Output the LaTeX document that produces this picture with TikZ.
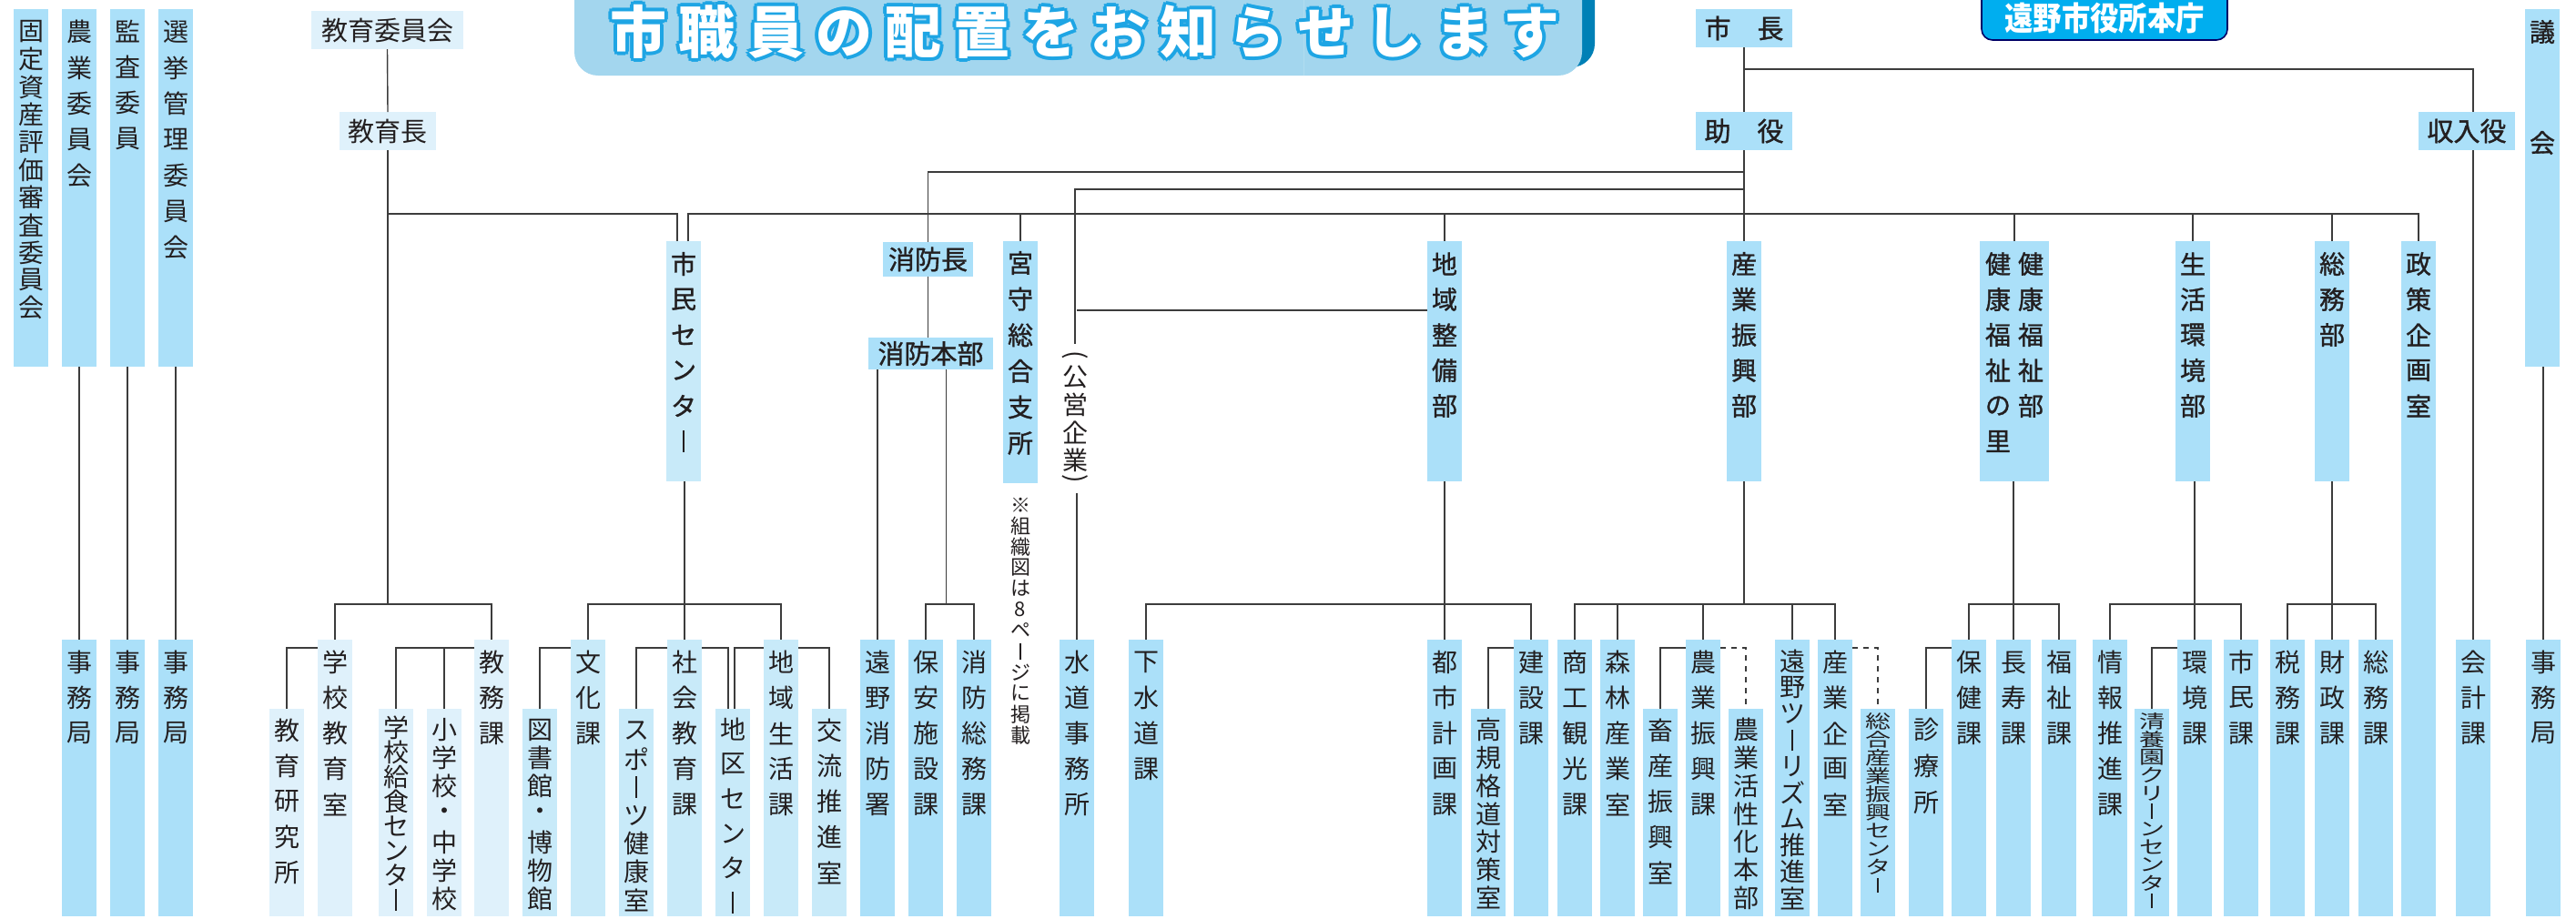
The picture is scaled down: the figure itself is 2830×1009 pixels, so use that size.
\documentclass[tikz,border=0pt]{standalone}
\usepackage{fontspec}
\usepackage{graphicx}
\usetikzlibrary{calc}
\newfontfamily\jp{Noto Sans CJK JP}
\newfontfamily\jpm{Noto Sans CJK JP}[FakeBold=1.2]
\newdimen\upx \upx=0.5pt
\definecolor{cmain}{RGB}{171,224,249}
\definecolor{cmed}{RGB}{200,234,249}
\definecolor{clight}{RGB}{223,241,251}
\definecolor{ctitle}{RGB}{163,214,238}
\definecolor{cshadow}{RGB}{0,128,182}
\definecolor{cbanner}{RGB}{0,174,239}
\definecolor{coutline}{RGB}{30,165,228}
\definecolor{cline}{RGB}{60,60,60}
\definecolor{textc}{RGB}{35,31,32}
\makeatletter
\let\vtfmt\@firstofone
\newcommand\vt[2][39]{\vtop{\offinterlineskip\@tfor\vt@c:=#2\do{\vbox to #1\upx{\vss\hbox to 1em{\hss\vtfmt{\vt@c}\hss}\vss}}}}
\makeatother
\newcommand\vc[2]{\vbox to #1\upx{\vss\hbox to 1em{\hss#2\hss}\vss}}
\newcommand\cho{\rule[-0.04em]{0.075em}{0.84em}}
\newcommand\lpar{\rotatebox[origin=c]{-90}{(}}
\newcommand\rpar{\rotatebox[origin=c]{-90}{)}}
\newcommand\tsp{\hspace{13.5\upx}}
\newcommand\vbt[5]{\vbox to #2\upx{\vskip\dimexpr #3\upx-#4\upx/2\relax\hbox to #1\upx{\hss\vt[#4]{#5}\hss}\vss}}
\newcommand\hx[3]{\vbox to #2\upx{\vss\hbox to #1\upx{\hss#3\hss}\vss}}
\newcommand\VB[9]{\node[vf,#1,anchor=north west] (#2) at (#3,#4) {\vbt{#5}{#6}{#7}{#8}{#9}};}
\newcommand\HB[7]{\node[hf,#1,anchor=north west] (#2) at (#3,#4) {\hx{#5}{#6}{#7}};}
\tikzset{
 bx/.style={inner sep=0pt, outer sep=0pt, text=textc},
 mb/.style={bx, fill=cmain},
 md/.style={bx, fill=cmed},
 lt/.style={bx, fill=clight},
 vf/.style={font=\jp\fontsize{14pt}{14pt}\selectfont},
 vbf/.style={font=\jpm\fontsize{14pt}{14pt}\selectfont},
 hf/.style={font=\jp\fontsize{14.5pt}{14.5pt}\selectfont},
 hbf/.style={font=\jpm\fontsize{14.5pt}{14.5pt}\selectfont},
 sm/.style={font=\jp\fontsize{14pt}{14pt}\selectfont\def\vtfmt{\scalebox{1}[0.72]}},
 ln/.style={draw=cline, line width=0.7pt},
 tt/.style={inner sep=0pt, font=\jp\bfseries\fontsize{31pt}{31pt}\selectfont},
}
\begin{document}
\begin{tikzpicture}[x=0.5pt,y=-0.5pt]
\useasboundingbox[fill=white] (0,0) rectangle (2830,1009);
% ---------- title banner ----------
\fill[cshadow, rounded corners=13pt] (660,-40) rectangle (1752,74);
\fill[ctitle, rounded corners=13pt] (631,-40) rectangle (1738,83);
\draw[ctitle!85!white, line width=0.5pt] (1432,0) -- (1432,83);
\foreach \a in {0,45,...,315}
  \node[tt, text=coutline] (tto\a) at ($(1192,35)+(\a:4)$) {市\tsp 職\tsp 員\tsp の\tsp 配\tsp 置\tsp を\tsp お\tsp 知\tsp ら\tsp せ\tsp し\tsp ま\tsp す};
\node[tt, text=white] (title) at (1192,35) {市\tsp 職\tsp 員\tsp の\tsp 配\tsp 置\tsp を\tsp お\tsp 知\tsp ら\tsp せ\tsp し\tsp ま\tsp す};
% ---------- honcho banner ----------
\filldraw[fill=cbanner, draw=black!60!blue, line width=0.8pt, rounded corners=6pt] (2177,-20) -- (2177,44) -- (2447,44) -- (2447,-20);
\node[inner sep=0pt, text=white, font=\jp\bfseries\fontsize{16.5pt}{16.5pt}\selectfont] (honcho) at (2312,20) {\scalebox{0.95}[1.08]{遠野市役所本庁}};
% ---------- levels ----------
\coordinate (yT) at (0,76);
\coordinate (yF) at (0,189);
\coordinate (yK) at (0,208);
\coordinate (yM) at (0,235);
\coordinate (yC) at (0,341);
\coordinate (yB) at (0,664);
\coordinate (yS) at (0,712);
% ---------- committees ----------
\VB{mb}{kotei}{15}{10}{38}{393}{25}{30.3}{固定資産評価審査委員会}
\VB{mb}{nogyoi}{68}{10}{38}{393}{25}{39.5}{農業委員会}
\VB{mb}{kansa}{121}{10}{38}{393}{25}{39}{監査委員}
\VB{mb}{senkyo}{174}{10}{38}{393}{25}{39.5}{選挙管理委員会}
\VB{mb}{jim1}{68}{703}{38}{304}{25}{39}{事務局}
\VB{mb}{jim2}{121}{703}{38}{304}{25}{39}{事務局}
\VB{mb}{jim3}{174}{703}{38}{304}{25}{39}{事務局}
% ---------- horizontal heads ----------
\HB{lt}{kyoikui}{342}{12}{167}{42}{教育委員会}
\HB{lt}{kyoikucho}{373}{123}{106}{42}{教育長}
\HB{mb,hbf}{shicho}{1863}{10}{106}{42}{市\hspace{1em}長}
\HB{mb,hbf}{joyaku}{1863}{123}{106}{42}{助\hspace{1em}役}
\HB{mb,hbf}{shunyu}{2657}{123}{106}{42}{収入役}
\HB{mb,hbf}{shobocho}{970}{266}{99}{38}{消防長}
\HB{mb,hbf}{shobohonbu}{954}{371}{137}{35}{消防本部}
% ---------- middle ----------
\VB{md,vbf}{shiminc}{732}{265}{38}{264}{25}{39}{市民センタ\cho}
\VB{mb,vbf}{miyamori}{1102}{265}{38}{266}{24}{39.6}{宮守総合支所}
\VB{mb,vbf}{chiiki}{1568}{265}{38}{264}{25}{39}{地域整備部}
\VB{mb,vbf}{sangyo}{1897}{265}{38}{264}{25}{39}{産業振興部}
\node[vbf,mb,anchor=north west] (kenko) at (2175,265) {\vbox to 264\upx{\vskip5.5\upx\hbox to 76\upx{\hss\vt{健康福祉の里}\hspace{8\upx}\vt{健康福祉部}\hss}\vss}};
\VB{mb,vbf}{seikatsu}{2390}{265}{38}{264}{25}{39}{生活環境部}
\VB{mb,vbf}{somubu}{2543}{265}{38}{264}{25}{39}{総務部}
\VB{mb,vbf}{seisaku}{2638}{265}{38}{742}{25}{39}{政策企画室}
\VB{mb,vbf}{gikai}{2774}{10}{38}{393}{25}{122}{議会}
\node[anchor=north, inner sep=0pt, outer sep=3.5pt, text=textc, font=\jp\fontsize{14pt}{14pt}\selectfont] (koei) at (1181,378) {\vtop{\offinterlineskip\vc{14}{\lpar}\vc{30.5}{公}\vc{30.5}{営}\vc{30.5}{企}\vc{30.5}{業}\vc{14}{\rpar}}};
\node[anchor=north, inner sep=0pt, text=textc, font=\jp\fontsize{11pt}{11pt}\selectfont] (note) at (1121,543) {\vt[23]{※組織図は8ペ\cho ジに掲載}};
% ---------- bottom row ----------
\VB{lt}{kenkyu}{296}{779}{38}{228}{24}{39}{教育研究所}
\VB{lt}{gakko}{349}{703}{38}{304}{25}{39}{学校教育室}
\VB{lt}{kyushoku}{416}{779}{38}{228}{21}{27}{学校給食センタ\cho}
\VB{lt}{shochu}{469}{779}{38}{228}{23}{31}{小学校・中学校}
\VB{lt}{kyomu}{521}{703}{38}{304}{25}{39}{教務課}
\VB{md}{tosho}{574}{779}{38}{228}{23}{31}{図書館・博物館}
\VB{md}{bunka}{627}{703}{38}{304}{25}{39}{文化課}
\VB{md}{sports}{680}{779}{38}{228}{24}{31}{スポ\cho ツ健康室}
\VB{md}{shakai}{733}{703}{38}{304}{25}{39}{社会教育課}
\VB{md}{chiku}{786}{779}{38}{228}{23}{38}{地区センタ\cho}
\VB{md}{chiikiseikatsu}{839}{703}{38}{304}{25}{39}{地域生活課}
\VB{md}{koryu}{892}{779}{38}{228}{24}{39}{交流推進室}
\VB{mb}{toonoshobo}{945}{703}{38}{304}{25}{39}{遠野消防署}
\VB{mb}{hoan}{998}{703}{38}{304}{25}{39}{保安施設課}
\VB{mb}{shobosomu}{1051}{703}{38}{304}{25}{39}{消防総務課}
\VB{mb}{suido}{1164}{703}{38}{304}{25}{39}{水道事務所}
\VB{mb}{gesui}{1240}{703}{38}{304}{25}{39}{下水道課}
\VB{mb}{toshi}{1568}{703}{38}{304}{25}{39}{都市計画課}
\VB{mb}{kokikaku}{1616}{779}{38}{228}{23}{30.8}{高規格道対策室}
\VB{mb}{kensetsu}{1663}{703}{38}{304}{25}{39}{建設課}
\VB{mb}{shoko}{1711}{703}{38}{304}{25}{39}{商工観光課}
\VB{mb}{shinrin}{1758}{703}{38}{304}{25}{39}{森林産業室}
\VB{mb}{chikusan}{1805}{779}{38}{228}{24}{39}{畜産振興室}
\VB{mb}{noshin}{1852}{703}{38}{304}{25}{39}{農業振興課}
\VB{mb}{kasseika}{1899}{779}{38}{228}{23}{30.8}{農業活性化本部}
\VB{mb}{tourism}{1950}{703}{38}{304}{24}{28.9}{遠野ツ\cho リズム推進室}
\VB{mb}{sangyokikaku}{1997}{703}{38}{304}{25}{39}{産業企画室}
\VB{mb,sm}{sogo}{2044}{779}{38}{228}{14}{20}{総合産業振興センタ\cho}
\VB{mb}{shinryo}{2097}{779}{38}{228}{23}{40}{診療所}
\VB{mb}{hoken}{2144}{703}{38}{304}{25}{39}{保健課}
\VB{mb}{chouju}{2193}{703}{38}{304}{25}{39}{長寿課}
\VB{mb}{fukushi}{2243}{703}{38}{304}{25}{39}{福祉課}
\VB{mb}{joho}{2299}{703}{38}{304}{25}{39}{情報推進課}
\VB{mb,sm}{seiyoen}{2345}{779}{38}{228}{14}{19.7}{清養園クリ\cho ンセンタ\cho}
\VB{mb}{kankyo}{2392}{703}{38}{304}{25}{39}{環境課}
\VB{mb}{shiminka}{2443}{703}{38}{304}{25}{39}{市民課}
\VB{mb}{zeimu}{2494}{703}{38}{304}{25}{39}{税務課}
\VB{mb}{zaisei}{2543}{703}{38}{304}{25}{39}{財政課}
\VB{mb}{somuka}{2591}{703}{38}{304}{25}{39}{総務課}
\VB{mb}{kaikei}{2698}{703}{38}{304}{25}{39}{会計課}
\VB{mb}{jimg}{2775}{703}{38}{304}{25}{39}{事務局}
% ---------- connectors ----------
\draw[ln] (nogyoi.south) -- (jim1.north);
\draw[ln] (kansa.south) -- (jim2.north);
\draw[ln] (senkyo.south) -- (jim3.north);
% education
\draw[ln] (kyoikui.south) -- (kyoikucho.north);
\draw[ln] (kyoikucho.south) -- (kyoikucho |- yB);
\draw[ln] (gakko.north) -- (gakko |- yB) -- (kyomu |- yB) -- (kyomu.north);
\draw[ln] (gakko.west |- yS) -| (kenkyu.north);
\draw[ln] (kyomu.west |- yS) -| (kyushoku.north);
\draw[ln] (shochu.north) -- (shochu |- yS);
\draw[ln] (kyoikucho |- yM) -| ($(shiminc.north)+(-7,0)$);
% main bar
\draw[ln] ($(shiminc.north)+(5,0)$) |- (seisaku |- yM) -- (seisaku.north);
% shimin center
\draw[ln] (shakai.north) -- (shakai |- shiminc.south);
\draw[ln] (bunka.north) -- (bunka |- yB) -- (chiikiseikatsu |- yB) -- (chiikiseikatsu.north);
\draw[ln] (bunka.west |- yS) -| (tosho.north);
\draw[ln] (shakai.west |- yS) -| (sports.north);
\draw[ln] (shakai.east |- yS) -| ($(chiku.north)+(-5,0)$);
\draw[ln] (chiikiseikatsu.west |- yS) -| ($(chiku.north)+(2,0)$);
\draw[ln] (chiikiseikatsu.east |- yS) -| (koryu.north);
% mayor
\draw[ln] (shicho.south) -- (joyaku.north);
\draw[ln] (shicho |- yT) -| (kaikei |- shunyu.north);
\draw[ln] (joyaku.south) -- (sangyo.north);
\draw[ln] (joyaku |- yF) -| (shobocho.north);
\draw[ln] (joyaku |- yK) -| (koei.north);
\draw[ln] (miyamori.north) -- (miyamori |- yM);
\draw[ln] (chiiki.north) -- (chiiki |- yM);
\draw[ln] (kenko.north) -- (kenko |- yM);
\draw[ln] (seikatsu.north) -- (seikatsu |- yM);
\draw[ln] (somubu.north) -- (somubu |- yM);
% fire
\draw[ln] (shobocho.south) -- (shobocho |- shobohonbu.north);
\draw[ln] (toonoshobo.north) -- (toonoshobo |- shobohonbu.south);
\coordinate (hb) at ($(shobohonbu.south)+(17,0)$);
\draw[ln] (hb) -- (hb |- yB);
\draw[ln] (hoan.north) -- (hoan |- yB) -- (shobosomu |- yB) -- (shobosomu.north);
% public enterprise
\draw[ln] (suido.north) -- (suido |- koei.south);
\draw[ln] (chiiki.west |- yC) -- (suido |- yC);
% regional development
\draw[ln] (chiiki.south) -- (toshi.north);
\draw[ln] (gesui.north) -- (gesui |- yB) -- (kensetsu |- yB) -- (kensetsu.north);
\draw[ln] (kensetsu.west |- yS) -| (kokikaku.north);
% industry
\draw[ln] (sangyo.south) -- (sangyo |- yB);
\draw[ln] (shoko.north) -- (shoko |- yB) -- (sangyokikaku |- yB) -- (sangyokikaku.north);
\draw[ln] (shinrin.north) -- (shinrin |- yB);
\draw[ln] (noshin.north) -- (noshin |- yB);
\draw[ln] (tourism.north) -- (tourism |- yB);
\draw[ln] (noshin.west |- yS) -| (chikusan.north);
\draw[ln, dash pattern=on 3pt off 3pt] (noshin.east |- yS) -| (kasseika.north);
\draw[ln, dash pattern=on 3pt off 3pt] (sangyokikaku.east |- yS) -| (sogo.north);
% health
\draw[ln] (chouju.north) -- (chouju |- kenko.south);
\draw[ln] (hoken.north) -- (hoken |- yB) -- (fukushi |- yB) -- (fukushi.north);
\draw[ln] (hoken.west |- yS) -| (shinryo.north);
% environment
\draw[ln] (kankyo.north) -- (kankyo |- seikatsu.south);
\draw[ln] (joho.north) -- (joho |- yB) -- (shiminka |- yB) -- (shiminka.north);
\draw[ln] (kankyo.west |- yS) -| (seiyoen.north);
% general affairs
\draw[ln] (zaisei.north) -- (zaisei |- somubu.south);
\draw[ln] (zeimu.north) -- (zeimu |- yB) -- (somuka |- yB) -- (somuka.north);
% treasurer, council
\draw[ln] (kaikei.north) -- (kaikei |- shunyu.south);
\draw[ln] (jimg.north) -- (jimg |- gikai.south);
\end{tikzpicture}
\end{document}
